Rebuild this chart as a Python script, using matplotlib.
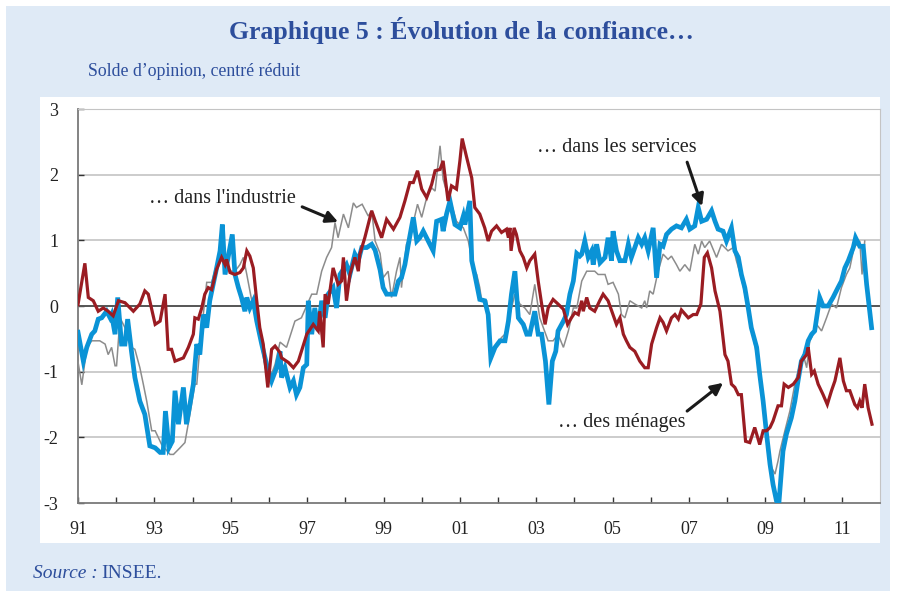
import matplotlib
matplotlib.use("Agg")
import matplotlib.pyplot as plt
from matplotlib.patches import Rectangle

plt.rcParams['font.family'] = ['Liberation Serif', 'DejaVu Serif']
plt.rcParams['axes.unicode_minus'] = False

# (annee decimale, solde centre reduit)
menages = [
    (1991.00, 0.02), (1991.18, 0.65), (1991.27, 0.13), (1991.40, 0.08), (1991.53, -0.08),
    (1991.66, -0.03), (1991.79, -0.08), (1991.92, -0.15), (1992.06, 0.08), (1992.23, 0.05),
    (1992.45, -0.08), (1992.62, 0.03), (1992.75, 0.23), (1992.84, 0.18), (1993.02, -0.28),
    (1993.15, -0.23), (1993.28, 0.18), (1993.36, -0.66), (1993.45, -0.66), (1993.54, -0.84),
    (1993.67, -0.81), (1993.76, -0.79), (1993.89, -0.63), (1994.02, -0.43), (1994.06, -0.18),
    (1994.15, -0.20), (1994.24, -0.03), (1994.32, 0.18), (1994.41, 0.28), (1994.50, 0.25),
    (1994.63, 0.56), (1994.76, 0.74), (1994.85, 0.63), (1994.89, 0.71), (1994.98, 0.51),
    (1995.11, 0.48), (1995.24, 0.51), (1995.33, 0.58), (1995.42, 0.84), (1995.50, 0.76),
    (1995.59, 0.58), (1995.68, 0.08), (1995.76, -0.33), (1995.85, -0.58), (1995.97, -1.24),
    (1996.07, -0.66), (1996.16, -0.61), (1996.29, -0.71), (1996.33, -0.79), (1996.51, -0.86),
    (1996.64, -0.94), (1996.77, -0.84), (1996.85, -0.69), (1996.99, -0.43), (1997.16, -0.28),
    (1997.29, -0.38), (1997.33, -0.08), (1997.42, -0.63), (1997.47, 0.18), (1997.55, 0.03),
    (1997.68, 0.58), (1997.81, 0.33), (1997.90, 0.38), (1997.95, 0.74), (1998.03, 0.08),
    (1998.12, 0.48), (1998.25, 0.74), (1998.34, 0.53), (1998.38, 0.79), (1998.51, 1.04),
    (1998.69, 1.45), (1998.78, 1.30), (1998.95, 1.04), (1999.08, 1.32), (1999.26, 1.17),
    (1999.43, 1.35), (1999.56, 1.60), (1999.69, 1.88), (1999.78, 1.88), (1999.89, 2.06),
    (2000.00, 1.78), (2000.13, 1.65), (2000.26, 1.85), (2000.35, 2.06), (2000.48, 2.08),
    (2000.56, 2.21), (2000.69, 1.60), (2000.78, 1.83), (2000.91, 1.78), (2001.00, 2.21),
    (2001.06, 2.55), (2001.17, 2.28), (2001.31, 1.95), (2001.39, 1.50), (2001.52, 1.40),
    (2001.65, 1.19), (2001.74, 0.99), (2001.83, 1.14), (2001.96, 1.22), (2002.09, 1.12),
    (2002.22, 1.17), (2002.27, 1.04), (2002.31, 1.19), (2002.34, 0.84), (2002.42, 1.19),
    (2002.48, 1.09), (2002.57, 0.84), (2002.66, 0.74), (2002.75, 0.58), (2002.83, 0.69),
    (2002.96, 0.79), (2003.05, 0.38), (2003.14, 0.03), (2003.23, -0.28), (2003.31, -0.03),
    (2003.44, 0.10), (2003.57, 0.03), (2003.71, -0.05), (2003.82, -0.28), (2003.92, -0.18),
    (2004.01, -0.10), (2004.10, -0.13), (2004.19, 0.08), (2004.23, -0.08), (2004.32, 0.13),
    (2004.40, -0.03), (2004.53, -0.08), (2004.66, 0.08), (2004.75, 0.18), (2004.88, 0.08),
    (2005.01, -0.13), (2005.10, -0.28), (2005.19, -0.18), (2005.28, -0.43), (2005.36, -0.53),
    (2005.45, -0.63), (2005.58, -0.69), (2005.71, -0.84), (2005.84, -0.94), (2005.93, -0.94),
    (2006.02, -0.58), (2006.15, -0.33), (2006.24, -0.18), (2006.32, -0.25), (2006.41, -0.38),
    (2006.54, -0.18), (2006.63, -0.13), (2006.72, -0.20), (2006.80, -0.06), (2006.98, -0.18),
    (2007.11, -0.13), (2007.20, -0.13), (2007.31, 0.03), (2007.40, 0.74), (2007.48, 0.81),
    (2007.59, 0.58), (2007.68, 0.23), (2007.81, -0.08), (2007.94, -0.74), (2008.02, -0.84),
    (2008.11, -1.19), (2008.20, -1.24), (2008.29, -1.35), (2008.37, -1.35), (2008.48, -2.06),
    (2008.59, -2.08), (2008.72, -1.85), (2008.85, -2.11), (2008.94, -1.90), (2009.03, -1.90),
    (2009.12, -1.85), (2009.20, -1.75), (2009.33, -1.52), (2009.42, -1.52), (2009.49, -1.19),
    (2009.60, -1.24), (2009.73, -1.19), (2009.86, -1.09), (2009.94, -0.84), (2010.08, -0.74),
    (2010.12, -0.63), (2010.21, -1.04), (2010.28, -0.99), (2010.38, -1.19), (2010.51, -1.35),
    (2010.62, -1.50), (2010.73, -1.29), (2010.82, -1.14), (2010.95, -0.79), (2011.04, -1.14),
    (2011.12, -1.29), (2011.21, -1.29), (2011.34, -1.50), (2011.41, -1.55), (2011.47, -1.45),
    (2011.53, -1.55), (2011.60, -1.19), (2011.69, -1.55), (2011.79, -1.80),
]

services = [
    (1991.00, -0.40), (1991.14, -0.84), (1991.23, -0.63), (1991.36, -0.43), (1991.44, -0.38),
    (1991.53, -0.20), (1991.62, -0.18), (1991.75, -0.08), (1991.84, -0.18), (1991.88, -0.13),
    (1991.97, -0.43), (1992.04, 0.13), (1992.14, -0.58), (1992.23, -0.58), (1992.30, -0.20),
    (1992.40, -0.69), (1992.49, -1.09), (1992.62, -1.45), (1992.75, -1.65), (1992.88, -2.13),
    (1993.02, -2.16), (1993.15, -2.23), (1993.23, -2.23), (1993.29, -1.60), (1993.38, -2.16),
    (1993.47, -2.06), (1993.54, -1.29), (1993.63, -1.80), (1993.76, -1.24), (1993.84, -1.80),
    (1993.93, -1.50), (1994.02, -1.19), (1994.11, -0.58), (1994.19, -0.74), (1994.28, -0.13),
    (1994.37, -0.33), (1994.45, 0.08), (1994.54, 0.33), (1994.63, 0.58), (1994.72, 0.84),
    (1994.78, 1.24), (1994.85, 0.48), (1994.93, 0.74), (1995.04, 1.09), (1995.11, 0.48),
    (1995.20, 0.28), (1995.28, 0.13), (1995.37, -0.08), (1995.42, 0.13), (1995.50, -0.03),
    (1995.59, 0.08), (1995.68, -0.23), (1995.81, -0.58), (1995.94, -0.89), (1996.07, -1.14),
    (1996.20, -0.94), (1996.29, -0.69), (1996.33, -1.09), (1996.42, -0.94), (1996.55, -1.24),
    (1996.64, -1.14), (1996.72, -1.35), (1996.81, -1.24), (1996.90, -0.94), (1996.99, -0.89),
    (1997.03, 0.08), (1997.12, -0.43), (1997.20, -0.03), (1997.29, -0.38), (1997.38, 0.08),
    (1997.47, -0.18), (1997.55, 0.18), (1997.68, 0.28), (1997.77, -0.03), (1997.86, 0.48),
    (1998.03, 0.63), (1998.12, 0.48), (1998.25, 0.79), (1998.34, 0.69), (1998.43, 0.89),
    (1998.56, 0.89), (1998.69, 0.94), (1998.78, 0.85), (1998.91, 0.55), (1998.99, 0.28),
    (1999.08, 0.18), (1999.30, 0.18), (1999.39, 0.38), (1999.47, 0.43), (1999.56, 0.63),
    (1999.65, 0.94), (1999.78, 1.35), (1999.87, 0.99), (1999.95, 1.04), (2000.04, 1.14),
    (2000.17, 0.99), (2000.30, 0.84), (2000.39, 1.29), (2000.52, 1.32), (2000.56, 1.14),
    (2000.65, 1.40), (2000.74, 1.60), (2000.87, 1.24), (2001.00, 1.19), (2001.09, 1.37),
    (2001.13, 1.24), (2001.26, 1.60), (2001.31, 0.69), (2001.39, 0.48), (2001.52, 0.10),
    (2001.65, 0.08), (2001.74, -0.13), (2001.81, -0.79), (2001.92, -0.63), (2002.05, -0.53),
    (2002.18, -0.53), (2002.27, -0.23), (2002.35, 0.18), (2002.44, 0.53), (2002.53, -0.18),
    (2002.66, -0.28), (2002.75, -0.43), (2002.83, -0.43), (2002.96, -0.08), (2003.05, -0.43),
    (2003.14, -0.43), (2003.24, -0.84), (2003.33, -1.50), (2003.42, -0.84), (2003.51, -0.69),
    (2003.57, -0.38), (2003.71, -0.23), (2003.79, -0.13), (2003.88, 0.18), (2003.97, 0.38),
    (2004.06, 0.80), (2004.14, 0.76), (2004.19, 0.79), (2004.27, 0.99), (2004.36, 0.74),
    (2004.45, 0.84), (2004.49, 0.63), (2004.58, 0.94), (2004.67, 0.66), (2004.80, 0.74),
    (2004.88, 1.04), (2004.97, 0.69), (2005.01, 1.14), (2005.10, 0.84), (2005.19, 0.69),
    (2005.32, 0.69), (2005.41, 0.94), (2005.49, 0.74), (2005.58, 0.89), (2005.67, 1.04),
    (2005.76, 0.94), (2005.84, 1.04), (2005.93, 0.84), (2006.06, 1.19), (2006.15, 0.43),
    (2006.24, 0.94), (2006.32, 0.91), (2006.41, 1.09), (2006.54, 1.17), (2006.67, 1.22),
    (2006.80, 1.19), (2006.93, 1.32), (2007.02, 1.17), (2007.15, 1.22), (2007.24, 1.50),
    (2007.33, 1.29), (2007.46, 1.32), (2007.59, 1.45), (2007.68, 1.29), (2007.76, 1.17),
    (2007.89, 1.14), (2007.98, 0.99), (2008.11, 1.19), (2008.20, 0.84), (2008.29, 0.74),
    (2008.37, 0.48), (2008.46, 0.28), (2008.55, -0.03), (2008.63, -0.33), (2008.77, -0.63),
    (2008.85, -1.04), (2008.94, -1.45), (2009.03, -1.95), (2009.12, -2.41), (2009.20, -2.72),
    (2009.29, -2.97), (2009.35, -3.02), (2009.46, -2.21), (2009.55, -1.95), (2009.68, -1.70),
    (2009.77, -1.45), (2009.84, -1.19), (2009.94, -0.84), (2010.03, -0.74), (2010.12, -0.53),
    (2010.21, -0.43), (2010.29, -0.38), (2010.38, -0.03), (2010.42, 0.13), (2010.51, 0.00),
    (2010.64, 0.00), (2010.77, 0.13), (2010.90, 0.28), (2010.99, 0.38), (2011.08, 0.58),
    (2011.17, 0.69), (2011.30, 0.89), (2011.36, 1.04), (2011.47, 0.91), (2011.56, 0.91),
    (2011.65, 0.33), (2011.78, -0.33),
]

industrie = [
    (1991.00, -0.85), (1991.10, -1.20), (1991.23, -0.63), (1991.36, -0.53), (1991.57, -0.53),
    (1991.71, -0.58), (1991.79, -0.74), (1991.88, -0.63), (1991.97, -0.91), (1992.01, -0.91),
    (1992.10, -0.18), (1992.23, -0.33), (1992.40, -0.63), (1992.49, -0.66), (1992.62, -0.94),
    (1992.71, -1.19), (1992.80, -1.45), (1992.93, -1.90), (1993.02, -1.90), (1993.19, -2.11),
    (1993.41, -2.26), (1993.50, -2.26), (1993.67, -2.16), (1993.80, -2.08), (1993.93, -1.65),
    (1994.06, -1.19), (1994.11, -1.19), (1994.19, -0.63), (1994.28, -0.13), (1994.37, 0.36),
    (1994.50, 0.36), (1994.63, 0.63), (1994.76, 0.79), (1994.85, 0.63), (1995.02, 0.53),
    (1995.11, 0.53), (1995.24, 0.63), (1995.33, 0.74), (1995.42, 0.48), (1995.55, 0.08),
    (1995.68, -0.23), (1995.81, -0.63), (1995.90, -0.94), (1996.03, -1.09), (1996.16, -0.89),
    (1996.29, -0.55), (1996.46, -0.63), (1996.68, -0.23), (1996.85, -0.18), (1997.12, 0.18),
    (1997.25, 0.18), (1997.38, 0.53), (1997.51, 0.74), (1997.64, 0.89), (1997.73, 1.27),
    (1997.81, 1.04), (1997.95, 1.40), (1998.08, 1.19), (1998.21, 1.57), (1998.29, 1.50),
    (1998.44, 1.55), (1998.60, 1.37), (1998.69, 1.45), (1998.78, 0.99), (1998.91, 0.80),
    (1998.99, 0.43), (1999.12, 0.53), (1999.21, 0.13), (1999.34, 0.53), (1999.43, 0.74),
    (1999.47, 0.28), (1999.60, 0.94), (1999.69, 1.04), (1999.89, 1.55), (2000.00, 1.35),
    (2000.13, 1.65), (2000.26, 1.80), (2000.35, 1.75), (2000.48, 2.44), (2000.56, 1.93),
    (2000.65, 1.75), (2000.78, 1.55), (2000.91, 1.29), (2001.09, 1.19), (2001.22, 0.99),
    (2001.35, 0.58), (2001.44, 0.48), (2001.52, 0.28), (2001.57, 0.08), (2001.70, 0.08),
    (2001.83, -0.74), (2001.92, -0.63), (2002.09, -0.48), (2002.18, -0.43), (2002.35, -0.03),
    (2002.44, 0.18), (2002.57, 0.03), (2002.70, -0.03), (2002.83, -0.13), (2002.96, 0.33),
    (2003.09, -0.18), (2003.31, -0.53), (2003.44, -0.53), (2003.57, -0.43), (2003.71, -0.63),
    (2003.84, -0.38), (2003.97, -0.03), (2004.06, -0.03), (2004.19, 0.38), (2004.32, 0.53),
    (2004.53, 0.53), (2004.62, 0.48), (2004.80, 0.48), (2004.88, 0.33), (2005.01, 0.36),
    (2005.15, 0.18), (2005.23, -0.13), (2005.32, -0.18), (2005.45, 0.08), (2005.58, 0.03),
    (2005.76, -0.03), (2005.84, 0.08), (2005.89, -0.03), (2005.97, 0.23), (2006.06, 0.18),
    (2006.19, 0.53), (2006.32, 0.79), (2006.45, 0.71), (2006.54, 0.76), (2006.67, 0.63),
    (2006.76, 0.53), (2006.89, 0.63), (2007.02, 0.53), (2007.15, 0.94), (2007.24, 0.79),
    (2007.33, 0.99), (2007.41, 0.89), (2007.54, 0.99), (2007.72, 0.74), (2007.85, 0.94),
    (2008.02, 0.84), (2008.16, 0.89), (2008.24, 0.69), (2008.37, 0.43), (2008.50, 0.08),
    (2008.63, -0.33), (2008.77, -0.74), (2008.90, -1.24), (2008.98, -1.75), (2009.07, -2.16),
    (2009.16, -2.46), (2009.25, -2.56), (2009.33, -2.36), (2009.38, -2.21), (2009.51, -1.90),
    (2009.64, -1.60), (2009.77, -1.19), (2009.90, -0.89), (2009.99, -0.74), (2010.08, -0.94),
    (2010.16, -0.53), (2010.25, -0.43), (2010.34, -0.28), (2010.47, -0.38), (2010.60, -0.18),
    (2010.73, 0.03), (2010.86, -0.03), (2010.99, 0.28), (2011.12, 0.48), (2011.21, 0.58),
    (2011.32, 0.89), (2011.47, 0.99), (2011.53, 0.48), (2011.60, 0.99),
]

annees = list(range(1991, 2012))
etiquettes = [f"{a % 100:02d}" if a % 2 == 1 else "" for a in annees]

bleu_titre = '#2d4e9c'
fond = '#dfeaf6'

fig = plt.figure(figsize=(9.06, 5.91), dpi=100)
fig.patches.append(Rectangle((6 / 906, 0), 884 / 906, 585 / 591, transform=fig.transFigure,
                             facecolor=fond, edgecolor='none', zorder=-2))
fig.patches.append(Rectangle((40 / 906, 1 - 543 / 591), 840 / 906, 446 / 591,
                             transform=fig.transFigure, facecolor='white',
                             edgecolor='none', zorder=-1))

ax = fig.add_axes([78 / 906, 1 - 503 / 591, 802 / 906, 394 / 591])
ax.set_facecolor('none')

for serie, couleur, lw in [(industrie, '#8c8c8c', 1.1), (services, '#0a93d6', 3.4),
                           (menages, '#9a1c22', 2.3)]:
    x = [p[0] for p in serie]
    y = [p[1] for p in serie]
    ax.plot(x, y, color=couleur, lw=lw, solid_joinstyle='miter', zorder=3)

ax.set_xlim(1991, 2012)
ax.set_ylim(-3, 3)
ax.set_yticks(range(-3, 4))
ax.set_yticklabels([str(v) for v in range(-3, 4)])
ax.set_xticks(annees)
ax.set_xticklabels(etiquettes)
for v in [-2, -1, 1, 2, 3]:
    ax.axhline(v, color='#c4c4c4', lw=1.2, zorder=1)
ax.axhline(0, color='#555555', lw=1.4, zorder=2)

for s in ['top', 'right']:
    ax.spines[s].set_color('#c4c4c4')
for s in ['left', 'bottom']:
    ax.spines[s].set_color('#7a7a7a')
    ax.spines[s].set_linewidth(1.3)
ax.tick_params(axis='both', direction='in', length=4, width=1, color='#333333',
               labelsize=13, labelcolor='#222222')
ax.tick_params(axis='y', pad=14)
ax.tick_params(axis='x', pad=13)

txt = dict(fontsize=14.5, color='#222222', va='center', ha='right')
fleche = dict(arrowstyle='-|>,head_length=0.7,head_width=0.35', color='#1a1a1a', lw=2.2,
              shrinkA=0, shrinkB=0)
ax.text(1996.71, 1.63, '… dans l\'industrie', **txt)
ax.annotate('', xy=(1997.81, 1.28), xytext=(1996.87, 1.51), arrowprops=fleche)
ax.text(2007.21, 2.42, '… dans les services', **txt)
ax.annotate('', xy=(2007.34, 1.52), xytext=(2006.95, 2.19), arrowprops=fleche)
ax.text(2006.92, -1.77, '… des ménages', **txt)
ax.annotate('', xy=(2007.89, -1.17), xytext=(2006.95, -1.60), arrowprops=fleche)

fig.text(461 / 906, 1 - 30 / 591, 'Graphique 5 : Évolution de la confiance…', ha='center',
         va='center', fontsize=18.5, fontweight='bold', color=bleu_titre)
fig.text(88 / 906, 1 - 72 / 591, 'Solde d’opinion, centré réduit', ha='left', va='center',
         fontsize=12.8, color=bleu_titre)
fig.text(33 / 906, 1 - 573 / 591, 'Source :', ha='left', va='center', fontsize=14,
         style='italic', color=bleu_titre)
fig.text(101 / 906, 1 - 573 / 591, 'INSEE.', ha='left', va='center', fontsize=14,
         color=bleu_titre)

fig.savefig('out.png', dpi=100)
